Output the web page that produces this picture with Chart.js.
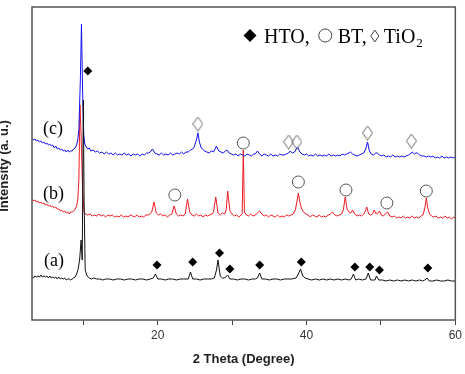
<!DOCTYPE html>
<html>
<head>
<meta charset="utf-8">
<script src="https://cdn.jsdelivr.net/npm/chart.js@4.4.0/dist/chart.umd.min.js"></script>
<style>
html, body { margin: 0; padding: 0; background: #fff; }
</style>
</head>
<body>
<canvas id="xrd" width="465" height="374"></canvas>
<script>
// scans as [2theta, intensity] pairs
// (a) HTO
const scanA = [[3.1,43],[3.3,42],[3.5,44],[3.7,43],[3.9,44],[4.1,43],[4.3,45],[4.5,43],[4.7,44],[4.9,43],[5.1,44],[5.3,42],[5.5,44],[5.7,42],[5.9,43],[6.1,42],[6.3,43],[6.5,41],[6.7,43],[6.9,41],[7.1,42],[7.3,41],[7.5,42],[7.7,40],[7.9,41],[8.1,41],[8.3,40],[8.5,41],[8.7,42],[8.9,43],[9.1,46],[9.3,51],[9.5,60],[9.7,80],[9.85,60],[10.0,220],[10.1,120],[10.25,50],[10.5,44],[10.8,42],[11.1,41],[11.4,42],[11.8,41],[12.2,41],[12.6,40],[13.0,41],[13.5,41],[14.0,40],[14.5,41],[15.0,41],[15.5,40],[16.0,41],[16.5,41],[17.0,40],[17.5,41],[18.0,41],[18.5,40],[19.0,41],[19.4,42],[19.7,46],[20.0,41],[20.5,41],[21.0,40],[21.5,41],[22.0,41],[22.5,40],[23.0,41],[23.5,41],[24.1,41],[24.4,48],[24.7,41],[25.2,41],[25.7,40],[26.2,41],[26.7,41],[27.2,41],[27.6,42],[27.9,50],[28.1,60],[28.4,44],[28.7,42],[29.0,42],[29.4,45],[29.7,41],[30.2,41],[30.7,40],[31.2,41],[31.7,41],[32.2,40],[32.7,41],[33.1,41],[33.4,42],[33.7,47],[34.0,41],[34.5,41],[35.0,40],[35.5,41],[36.0,41],[36.5,40],[37.0,41],[37.5,41],[38.0,41],[38.6,42],[38.9,46],[39.2,51],[39.5,44],[39.8,42],[40.2,41],[40.7,40],[41.2,41],[41.7,40],[42.2,41],[42.7,40],[43.2,41],[43.7,40],[44.2,41],[44.7,40],[45.2,41],[45.7,40],[46.0,41],[46.3,46],[46.6,40],[47.0,41],[47.5,40],[48.0,41],[48.3,47],[48.6,40],[49.0,40],[49.2,40],[49.4,44],[49.7,40],[50.2,40],[50.7,39],[51.2,40],[51.7,39],[52.2,40],[52.7,39],[53.2,40],[53.7,39],[54.2,40],[54.7,39],[55.2,40],[55.6,39],[55.9,40],[56.2,42],[56.5,39],[57.0,39],[57.5,40],[58.0,39],[58.5,39],[59.0,40],[59.5,39],[60.0,39]];

// (b) HTO + BT
const scanB = [[3.1,121],[3.3,119],[3.5,120],[3.7,118],[3.9,119],[4.1,117],[4.3,118],[4.5,116],[4.7,117],[4.9,115],[5.1,116],[5.3,114],[5.5,115],[5.7,113],[5.9,114],[6.1,112],[6.3,113],[6.5,111],[6.7,111],[6.9,109],[7.1,110],[7.3,108],[7.5,109],[7.7,107],[7.9,108],[8.1,106],[8.3,108],[8.5,108],[8.7,109],[8.9,111],[9.1,114],[9.25,120],[9.4,140],[9.55,215],[9.7,185],[9.9,130],[10.1,108],[10.3,106],[10.6,105],[10.9,106],[11.2,104],[11.5,105],[11.8,104],[12.1,106],[12.4,104],[12.7,105],[13.0,103],[13.3,105],[13.6,104],[13.9,105],[14.2,103],[14.5,104],[14.8,103],[15.1,105],[15.4,103],[15.7,104],[16.0,103],[16.3,105],[16.6,104],[16.9,103],[17.2,105],[17.5,103],[17.8,104],[18.1,103],[18.4,105],[18.8,105],[19.2,108],[19.5,118],[19.8,107],[20.1,105],[20.4,106],[20.7,104],[21.0,105],[21.3,103],[21.6,105],[21.9,106],[22.2,114],[22.5,106],[22.8,104],[23.1,105],[23.4,104],[23.7,106],[24.0,121],[24.3,108],[24.6,105],[24.9,104],[25.2,106],[25.5,104],[25.8,105],[26.1,103],[26.4,105],[26.7,104],[27.0,105],[27.3,106],[27.5,108],[27.8,123],[28.1,107],[28.4,105],[28.7,107],[29.0,106],[29.2,110],[29.4,129],[29.7,109],[30.0,106],[30.3,104],[30.6,105],[30.9,103],[31.2,105],[31.35,106],[31.5,170],[31.65,108],[31.9,105],[32.2,104],[32.5,106],[32.8,104],[33.1,105],[33.4,107],[33.7,109],[34.0,106],[34.3,104],[34.6,105],[34.9,103],[35.2,105],[35.5,104],[35.8,103],[36.1,105],[36.4,103],[36.7,104],[37.0,103],[37.3,105],[37.6,104],[37.9,105],[38.2,106],[38.5,110],[38.7,118],[38.9,127],[39.1,118],[39.3,112],[39.6,108],[39.9,106],[40.2,105],[40.5,103],[40.8,105],[41.1,104],[41.4,103],[41.7,105],[42.0,103],[42.3,104],[42.6,103],[42.9,105],[43.2,106],[43.5,108],[43.8,105],[44.1,104],[44.4,105],[44.7,106],[44.95,110],[45.2,123],[45.45,111],[45.7,108],[45.95,107],[46.2,110],[46.5,106],[46.8,104],[47.1,105],[47.4,104],[47.7,106],[47.9,109],[48.1,113],[48.35,106],[48.6,105],[48.85,106],[49.1,110],[49.35,106],[49.6,107],[49.8,109],[50.05,105],[50.3,104],[50.6,106],[50.9,108],[51.2,104],[51.5,103],[51.8,104],[52.1,102],[52.4,103],[52.7,102],[53.0,104],[53.3,102],[53.6,103],[53.9,102],[54.2,104],[54.5,102],[54.8,103],[55.1,102],[55.4,104],[55.65,105],[55.9,112],[56.1,122],[56.3,112],[56.55,106],[56.8,104],[57.1,103],[57.4,104],[57.7,102],[58.0,103],[58.3,102],[58.6,104],[58.9,102],[59.2,103],[59.5,101],[59.8,103],[60.0,102]];

// (c) HTO + BT + TiO2
const scanC = [[3.1,182],[3.3,180],[3.5,181],[3.7,179],[3.9,180],[4.1,178],[4.3,179],[4.5,177],[4.7,178],[4.9,176],[5.1,177],[5.3,175],[5.5,176],[5.7,174],[5.9,175],[6.1,172],[6.3,174],[6.5,171],[6.7,172],[6.9,170],[7.1,171],[7.3,169],[7.5,170],[7.7,168],[7.9,170],[8.1,168],[8.3,169],[8.5,169],[8.7,171],[8.9,172],[9.1,175],[9.25,180],[9.4,190],[9.6,240],[9.75,296],[9.9,230],[10.05,185],[10.2,176],[10.4,173],[10.6,171],[10.8,172],[11.0,169],[11.3,170],[11.6,168],[11.9,169],[12.2,167],[12.5,168],[12.8,166],[13.1,168],[13.4,166],[13.7,167],[14.0,165],[14.3,167],[14.6,165],[14.9,166],[15.2,165],[15.5,167],[15.8,165],[16.1,166],[16.4,164],[16.7,166],[17.0,165],[17.3,166],[17.6,164],[17.9,166],[18.2,165],[18.5,167],[18.8,167],[19.0,168],[19.3,171],[19.6,167],[19.9,166],[20.2,165],[20.5,167],[20.8,165],[21.1,166],[21.4,165],[21.7,167],[22.0,165],[22.3,166],[22.6,167],[22.9,166],[23.2,168],[23.5,166],[23.8,168],[24.1,168],[24.4,170],[24.7,171],[24.9,173],[25.2,180],[25.4,187],[25.6,178],[25.8,173],[26.0,171],[26.3,169],[26.6,168],[26.9,167],[27.2,169],[27.5,168],[27.9,174],[28.2,169],[28.5,168],[28.8,167],[29.1,169],[29.3,170],[29.6,167],[29.9,166],[30.2,165],[30.5,166],[30.8,164],[31.1,166],[31.4,165],[31.7,164],[32.0,166],[32.3,165],[32.6,164],[32.9,166],[33.1,166],[33.4,169],[33.7,166],[34.0,164],[34.3,166],[34.6,165],[34.9,164],[35.2,166],[35.5,164],[35.8,165],[36.1,164],[36.4,166],[36.7,165],[37.0,165],[37.3,166],[37.6,167],[37.8,169],[38.1,167],[38.4,168],[38.6,171],[38.8,173],[39.1,168],[39.4,166],[39.7,165],[40.0,166],[40.3,164],[40.6,165],[40.9,164],[41.2,166],[41.5,164],[41.8,165],[42.1,164],[42.4,165],[42.7,164],[43.0,166],[43.3,164],[43.6,165],[43.9,164],[44.2,165],[44.5,164],[44.8,166],[45.1,165],[45.4,166],[45.7,167],[45.9,168],[46.2,166],[46.5,165],[46.8,164],[47.1,165],[47.4,166],[47.7,167],[47.95,171],[48.2,178],[48.45,169],[48.7,166],[49.0,165],[49.3,167],[49.5,167],[49.8,165],[50.1,164],[50.4,165],[50.7,163],[51.0,164],[51.3,163],[51.6,165],[51.9,163],[52.2,164],[52.5,163],[52.8,164],[53.1,163],[53.4,164],[53.7,165],[53.9,166],[54.2,168],[54.5,166],[54.7,167],[54.9,167],[55.2,165],[55.5,164],[55.8,164],[56.1,163],[56.4,164],[56.7,163],[57.0,164],[57.3,162],[57.6,163],[57.9,162],[58.2,164],[58.5,162],[58.8,163],[59.1,162],[59.4,163],[59.7,162],[60.0,163]];

// phase markers
const htoTheta = [10.6,19.9,24.7,28.3,29.7,33.7,39.3,46.5,48.5,49.8,56.3];
const htoLevel = [249,55,58,67,51,55,58,53,53,50,52];
const btTheta = [31.5,22.3,38.9,45.3,50.8,56.1];
const btLevel = [177,125,138,130,117,129];
const tioTheta = [25.4,37.6,38.7,48.2,54.1];
const tioLevel = [196,178,178,187,179];

const xTicks = [10,20,30,40,50,60];

const toPoints = (xs, ys) => xs.map((x, i) => ({ x, y: ys[i] }));
const fromScan = scan => scan.map(([x, y]) => ({ x, y }));

const tioMark = document.createElement('canvas');
tioMark.width = 11; tioMark.height = 15;
const tctx = tioMark.getContext('2d');
tctx.strokeStyle = '#666'; tctx.lineWidth = 1;
tctx.beginPath();
tctx.moveTo(5.5, 0.5); tctx.lineTo(10.5, 7.5); tctx.lineTo(5.5, 14.5); tctx.lineTo(0.5, 7.5);
tctx.closePath(); tctx.stroke();

const curve = (label, scan, color) => ({
    label, data: fromScan(scan), borderColor: color, borderWidth: 1,
    pointRadius: 0, tension: 0, fill: false
});
const marks = (label, xs, ys, style) => Object.assign({
    label, data: toPoints(xs, ys), showLine: false
}, style);

const decorations = {
    id: 'decorations',
    afterDatasetsDraw(chart) {
        const { ctx, chartArea: a } = chart;
        ctx.save();
        ctx.strokeStyle = '#555';
        ctx.lineWidth = 1.5;
        ctx.strokeRect(a.left, a.top, a.right - a.left, a.bottom - a.top);

        ctx.fillStyle = '#000';
        ctx.font = '18px "Liberation Serif"';
        ctx.fillText('(c)', 43, 134);
        ctx.fillText('(b)', 43, 199);
        ctx.fillText('(a)', 44, 266);

        // phase key, pieces chained left to right
        ctx.beginPath();
        ctx.moveTo(250, 29); ctx.lineTo(256.5, 35.5); ctx.lineTo(250, 42); ctx.lineTo(243.5, 35.5);
        ctx.closePath(); ctx.fill();
        ctx.font = '20px "Liberation Serif"';
        let x = 264;
        ctx.fillText('HTO,', x, 43);
        x += ctx.measureText('HTO,').width + 9;
        ctx.strokeStyle = '#444'; ctx.lineWidth = 1;
        ctx.beginPath(); ctx.arc(x + 6.5, 35.5, 6.5, 0, Math.PI * 2); ctx.stroke();
        x += 19;
        ctx.fillText('BT,', x, 43);
        x += ctx.measureText('BT,').width + 8;
        ctx.beginPath();
        ctx.moveTo(x, 30); ctx.lineTo(x + 4, 36); ctx.lineTo(x, 42); ctx.lineTo(x - 4, 36);
        ctx.closePath(); ctx.stroke();
        x += 9;
        ctx.fillText('TiO', x, 43);
        x += ctx.measureText('TiO').width + 1;
        ctx.font = '13px "Liberation Serif"';
        ctx.fillText('2', x, 47);

        // y title, partly clipped by the left edge as in the figure
        ctx.translate(8, 166);
        ctx.rotate(-Math.PI / 2);
        ctx.font = 'bold 13px "Liberation Sans"';
        ctx.fillStyle = '#222';
        ctx.textAlign = 'center';
        ctx.fillText('Intensity (a. u.)', 0, 0);
        ctx.restore();
    }
};

new Chart(document.getElementById('xrd'), {
    type: 'line',
    data: {
        datasets: [
            marks('HTO', htoTheta, htoLevel, { pointStyle: 'rectRot', pointRadius: 4.5, backgroundColor: '#000', borderColor: '#000', borderWidth: 0 }),
            marks('BT', btTheta, btLevel, { pointStyle: 'circle', pointRadius: 6, backgroundColor: 'rgba(0,0,0,0)', borderColor: '#555', borderWidth: 1 }),
            marks('TiO2', tioTheta, tioLevel, { pointStyle: tioMark }),
            curve('(a)', scanA, '#111'),
            curve('(c)', scanC, '#1010f0'),
            curve('(b)', scanB, '#ee1c24')
        ]
    },
    options: {
        responsive: false,
        animation: false,
        layout: { padding: { left: 32, right: 9, top: 7, bottom: 0 } },
        plugins: { legend: { display: false }, tooltip: { enabled: false } },
        scales: {
            x: {
                type: 'linear', min: 3.1, max: 60,
                afterBuildTicks: s => { s.ticks = xTicks.map(v => ({ value: v })); },
                afterFit: s => { s.height = 54; },
                grid: { drawOnChartArea: false, drawTicks: true, tickLength: 5, color: '#444' },
                border: { display: false },
                ticks: {
                    padding: 3, color: '#333', font: { family: 'Liberation Sans', size: 12 },
                    maxRotation: 0, autoSkip: false,
                    callback: v => (v % 20 === 0 ? String(v) : '')
                },
                title: {
                    display: true, text: '2 Theta (Degree)', color: '#222',
                    font: { family: 'Liberation Sans', size: 13, weight: 'bold' },
                    padding: { top: 0, bottom: 7 }
                }
            },
            y: { display: false, min: 0, max: 313 }
        }
    },
    plugins: [decorations]
});
</script>
</body>
</html>
